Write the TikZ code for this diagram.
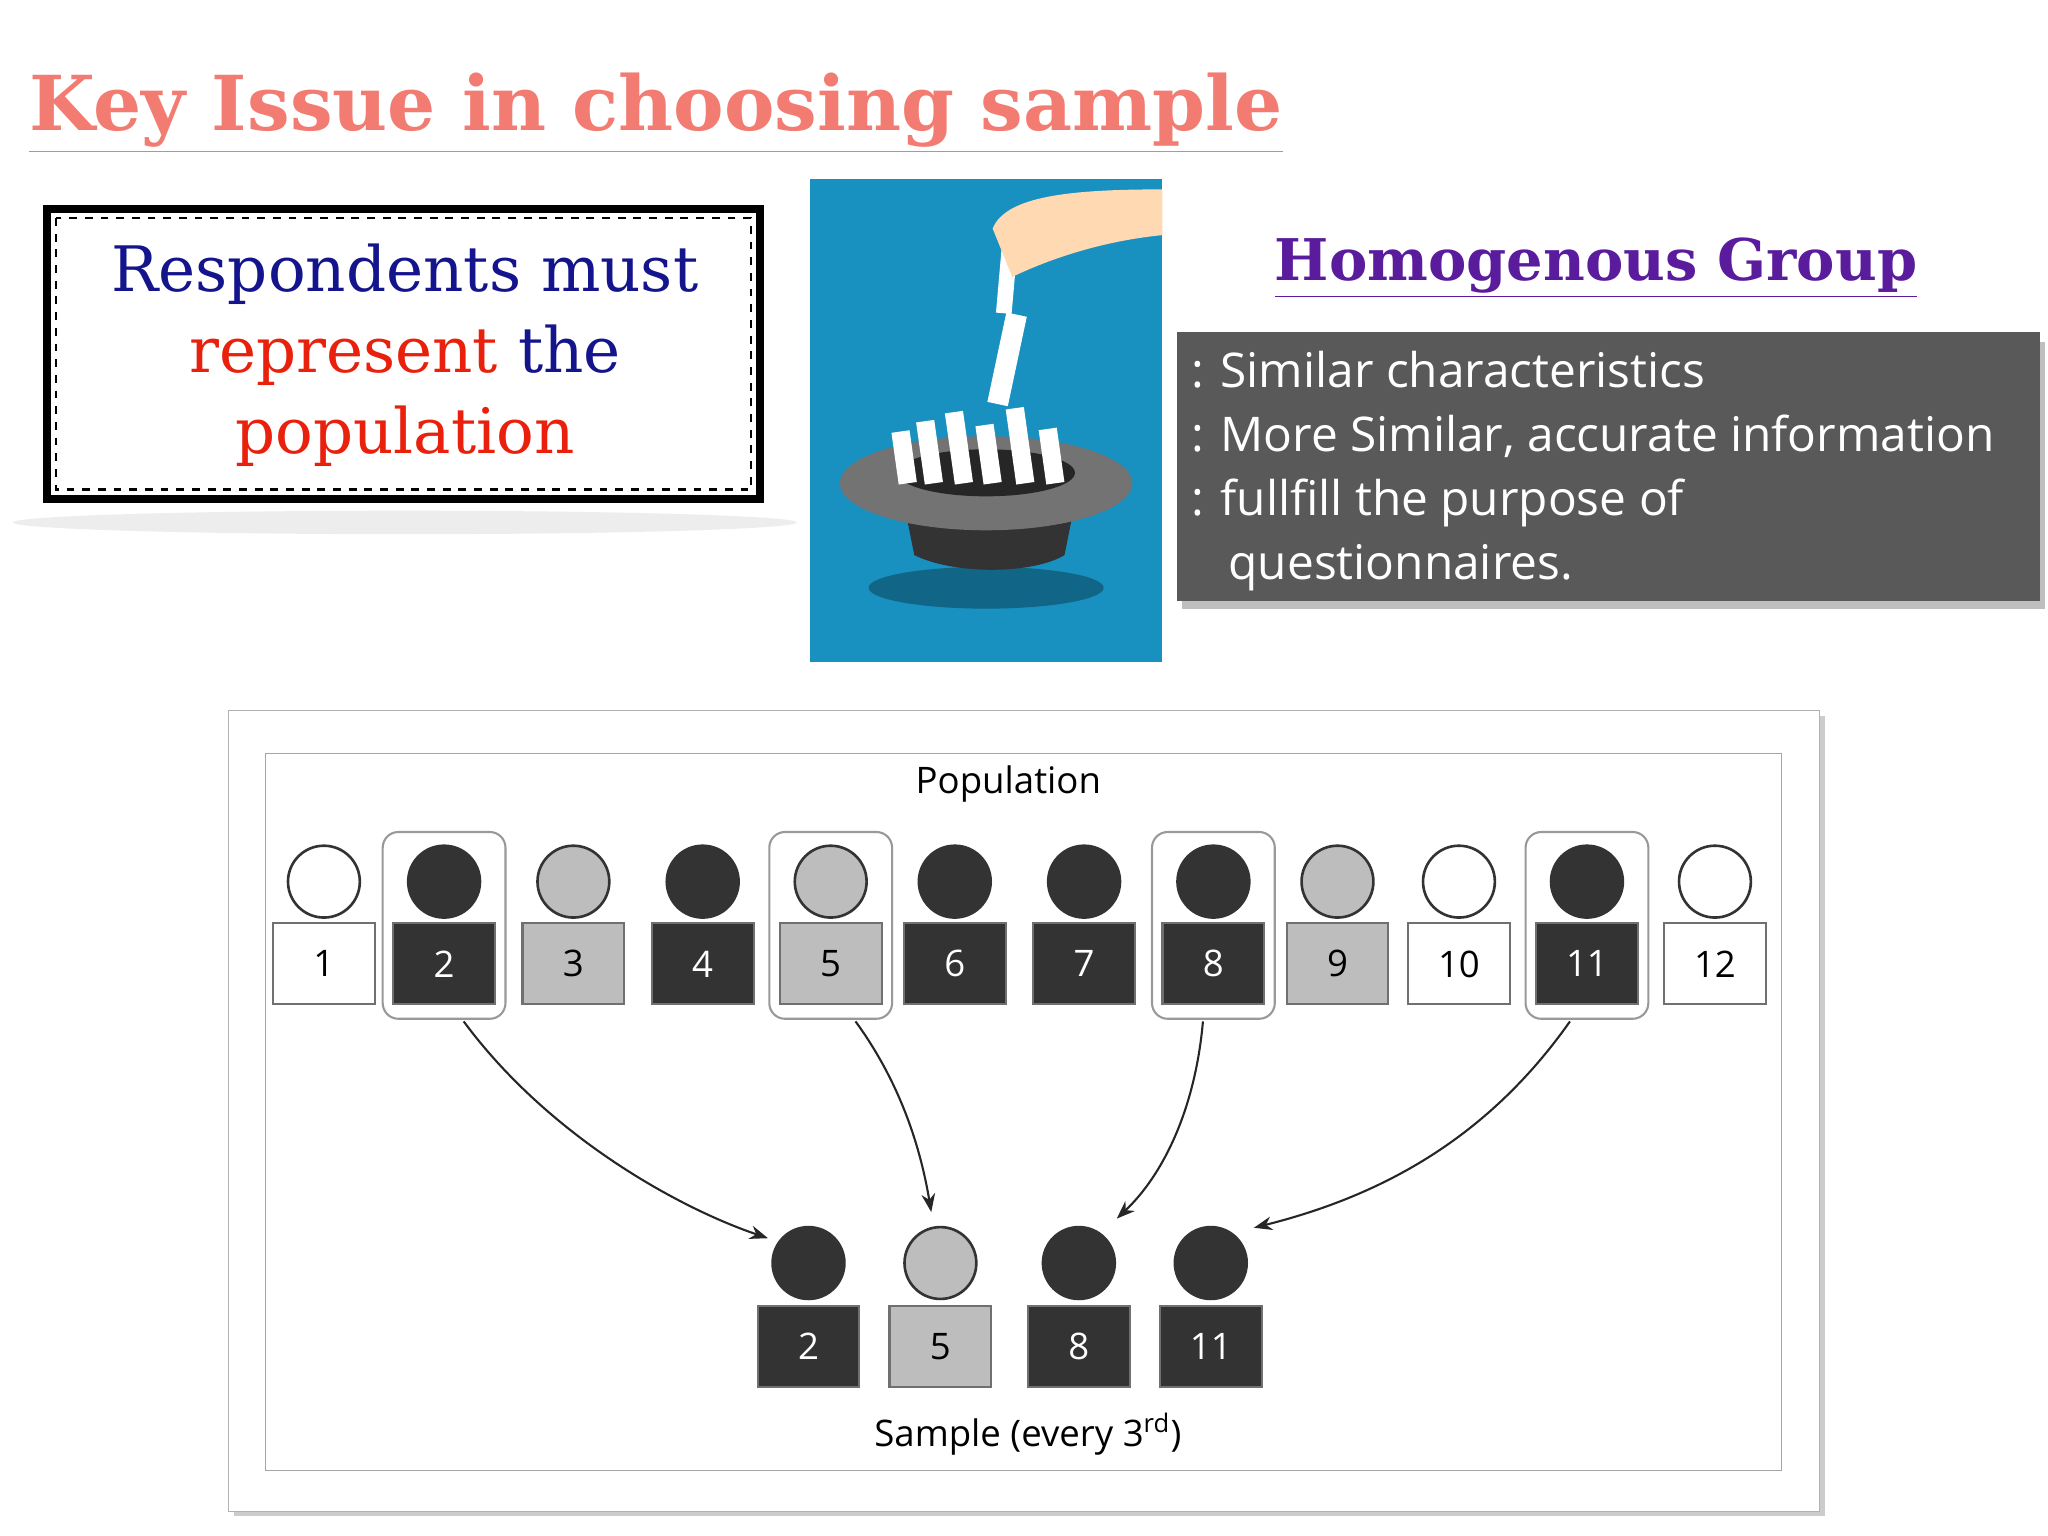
\documentclass[tikz,border=0pt]{standalone}
\usepackage{fontspec}
\setmainfont{DejaVu Serif}
\newfontfamily\osans{Open Sans}
\usetikzlibrary{arrows.meta}
\definecolor{dk}{HTML}{333333}
\definecolor{lg}{HTML}{BDBDBD}
\definecolor{salmon}{HTML}{F27C72}
\definecolor{navy}{HTML}{14148C}
\definecolor{rd}{HTML}{E8200C}
\definecolor{purp}{HTML}{5A1C9C}
\definecolor{bluebg}{HTML}{1890C0}
\tikzset{
 head/.style={circle,draw=dk,line width=1pt,minimum size=27.5pt,inner sep=0pt},
 body/.style={rectangle,draw=dk!70,line width=0.8pt,minimum width=39pt,minimum height=31pt,inner sep=0pt,font=\osans\fontsize{14}{14}\selectfont},
 hl/.style={draw=gray!80,rounded corners=6pt,line width=0.8pt},
 arr/.style={-{Stealth[length=7pt]},line width=0.8pt,black!85},
}
\begin{document}
\begin{tikzpicture}[x=0.5pt,y=-0.5pt]
\useasboundingbox (0,0) rectangle (1568,1176);
\fill[white] (0,0) rectangle (1568,1176);
% title
\node[anchor=base west,inner sep=0,text=salmon,font=\bfseries\fontsize{29}{29}\selectfont] (title) at (22,100) {\underline{Key Issue in choosing sample}};
% box
\fill[black!7] (310,400) ellipse (300 and 9);
\fill[white] (36,160) rectangle (582,382);
\draw[line width=3pt,black] (36,160) rectangle (582,382);
\draw[line width=1pt,black,dashed] (43,167) rectangle (575,375);
\node[align=center,font=\fontsize{24}{31}\selectfont] (resp) at (310,272) {\textcolor{navy}{Respondents must}\\\textcolor{rd}{represent} \textcolor{navy}{the}\\\textcolor{rd}{population}};
% photo
\fill[bluebg] (620,137) rectangle (890,507);
\fill[bluebg!70!black] (755,450) ellipse (90 and 16);
\fill[black!80] (690,375) -- (700,425) .. controls (730,440) and (790,440) .. (815,425) -- (825,375) -- cycle;
\fill[black!55] (755,370) ellipse (112 and 36);
\fill[black!85] (755,362) ellipse (68 and 18);
\foreach \x/\h in {695/40,715/48,738/55,760/45,785/58,808/42}
  \fill[white,rotate around={8:(\x,370)}] (\x-7,370) rectangle (\x+7,370-\h);
\fill[white,rotate around={-12:(770,280)}] (762,240) rectangle (778,310);
\fill[white,rotate around={-5:(772,200)}] (766,180) rectangle (778,240);
\fill[orange!30!white] (760,175) .. controls (770,150) and (820,145) .. (890,145) -- (890,180) .. controls (840,185) and (800,200) .. (775,212) -- cycle;
% homogenous
\node[text=purp,font=\bfseries\fontsize{22}{22}\selectfont] (homo) at (1222,205) {\underline{Homogenous Group}};
\fill[black!25] (905,262) rectangle (1566,466);
\fill[black!65] (901,254) rectangle (1562,460);
\node[anchor=north west,align=left,text=white,font=\osans\fontsize{18.3}{24.5}\selectfont] (list) at (905,262) {: Similar characteristics\\: More Similar, accurate information\\: fullfill the purpose of\\\ \ \ questionnaires.};
% diagram frame
\fill[black!20] (179,548) rectangle (1397,1161);
\draw[fill=white,draw=black!30] (175,544) rectangle (1393,1157);
\draw[draw=black!35] (203,577) rectangle (1364,1126);
\node[font=\osans\fontsize{14}{14}\selectfont] (pop) at (772,600) {Population};
% highlights
\foreach \x in {340,636,929,1215} \draw[hl] (\x-47,637) rectangle (\x+47,780);
\foreach \i/\x/\c/\t in {1/248/white/black,2/340/dk/white,3/439/lg/black,4/538/dk/white,5/636/lg/black,6/731/dk/white,7/830/dk/white,8/929/dk/white,9/1024/lg/black,10/1117/white/black,11/1215/dk/white,12/1313/white/black}{
  \node[head,fill=\c] (h\i) at (\x,675) {};
  \node[body,fill=\c,text=\t] (p\i) at (\x,738) {\i};
}
\foreach \i/\x/\c/\t in {2/619/dk/white,5/720/lg/black,8/826/dk/white,11/927/dk/white}{
  \node[head,fill=\c] (sh\i) at (\x,967) {};
  \node[body,fill=\c,text=\t] (s\i) at (\x,1031) {\i};
}
\node[font=\osans\fontsize{14}{14}\selectfont] (samp) at (787,1098) {Sample (every 3\textsuperscript{rd})};
\coordinate (a2) at (355,782); \coordinate (a5) at (655,782);
\coordinate (a8) at (921,782); \coordinate (a11) at (1202,782);
\coordinate (b2) at (588,948); \coordinate (b5) at (713,928);
\coordinate (b8) at (855,933); \coordinate (b11) at (960,940);
\draw[arr] (a2) .. controls (420,870) and (520,925) .. (b2);
\draw[arr] (a5) .. controls (690,830) and (705,880) .. (b5);
\draw[arr] (a8) .. controls (915,850) and (890,900) .. (b8);
\draw[arr] (a11) .. controls (1140,870) and (1060,915) .. (b11);
\end{tikzpicture}
\end{document}
